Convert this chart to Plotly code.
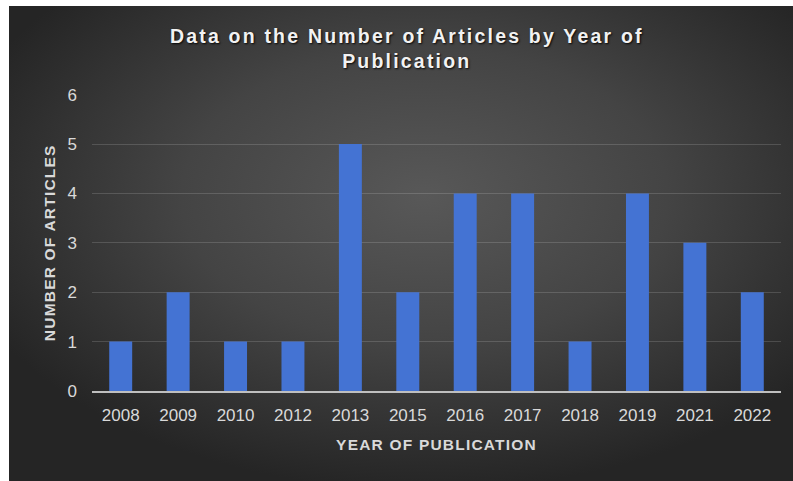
import base64
import plotly.graph_objects as go

# Articles per publication year
years = ["2008", "2009", "2010", "2012", "2013", "2015",
         "2016", "2017", "2018", "2019", "2021", "2022"]
articles = [1, 2, 1, 1, 5, 2, 4, 4, 1, 4, 3, 2]
y_ticks = [0, 1, 2, 3, 4, 5, 6]

W, H = 793, 481
PANEL_L, PANEL_T = 9, 6          # dark chart panel offset, pixels
PLOT_L, PLOT_R = 92, 781         # plot area, pixels from left
PLOT_T, PLOT_B = 94.6, 391       # plot area, pixels from top

# Dark panel with a soft radial highlight, used as a background image
panel_svg = (
    '<svg xmlns="http://www.w3.org/2000/svg" width="784" height="475" '
    'viewBox="0 0 784 475" preserveAspectRatio="none">'
    '<defs><radialGradient id="g" cx="0.53" cy="0.40" r="0.62">'
    '<stop offset="0" stop-color="#585858"/>'
    '<stop offset="0.5" stop-color="#444444"/>'
    '<stop offset="1" stop-color="#252525"/>'
    '</radialGradient></defs>'
    '<rect width="784" height="475" fill="url(#g)"/></svg>'
)
panel_uri = "data:image/svg+xml;base64," + base64.b64encode(panel_svg.encode()).decode()

fig = go.Figure(go.Bar(
    x=years, y=articles,
    marker=dict(color="#4473d3", line=dict(width=0)),
    showlegend=False,
))

tick_font = dict(family="Liberation Sans, Arial, sans-serif", size=17, color="#d9d9d9")
axis_title_font = dict(family="Liberation Sans, Arial, sans-serif", size=15.5,
                       color="#d9d9d9", weight="bold")

fig.update_layout(
    width=W, height=H, autosize=False,
    margin=dict(l=0, r=0, t=0, b=0, pad=0, autoexpand=False),
    paper_bgcolor="white", plot_bgcolor="rgba(0,0,0,0)",
    bargap=0.6,
    images=[dict(
        source=panel_uri, xref="paper", yref="paper",
        x=PANEL_L / W, y=1 - PANEL_T / H, xanchor="left", yanchor="top",
        sizex=(W - PANEL_L) / W, sizey=(H - PANEL_T) / H,
        sizing="stretch", layer="below",
    )],
    title=dict(
        text="Data on the Number of Articles by Year of<br>Publication",
        x=0.513, xanchor="center", y=1 - 43 / H, yanchor="middle",
        font=dict(family="Liberation Sans, Arial, sans-serif", size=19.5, color="#f2f2f2",
                  weight="bold", shadow="1px 1px 2px rgba(0,0,0,0.9)"),
    ),
    xaxis=dict(
        domain=[PLOT_L / W, PLOT_R / W], type="category",
        showline=True, linecolor="#bfbfbf", linewidth=2, ticks="",
        showgrid=False, tickfont=tick_font, ticklabelstandoff=8,
        title=dict(text="YEAR OF PUBLICATION", font=axis_title_font, standoff=15),
    ),
    yaxis=dict(
        domain=[(H - PLOT_B) / H, (H - PLOT_T) / H],
        range=[0, 6], tickvals=y_ticks, ticks="",
        showgrid=True, gridcolor="rgba(255,255,255,0.15)", gridwidth=1.2,
        zeroline=False, showline=False, tickfont=tick_font, ticklabelstandoff=14,
        title=dict(text="NUMBER OF ARTICLES", font=axis_title_font, standoff=8),
    ),
)

# Spaced lettering for the chart and axis titles
spacing_js = """
var gd = document.getElementById('{plot_id}');
function spaceTitles() {
  gd.querySelectorAll('.gtitle').forEach(function (t) { t.style.letterSpacing = '2.2px'; });
  gd.querySelectorAll('.xtitle, .ytitle').forEach(function (t) { t.style.letterSpacing = '1.2px'; });
}
spaceTitles();
gd.on('plotly_afterplot', spaceTitles);
"""

fig.write_html("out.html", post_script=spacing_js)
